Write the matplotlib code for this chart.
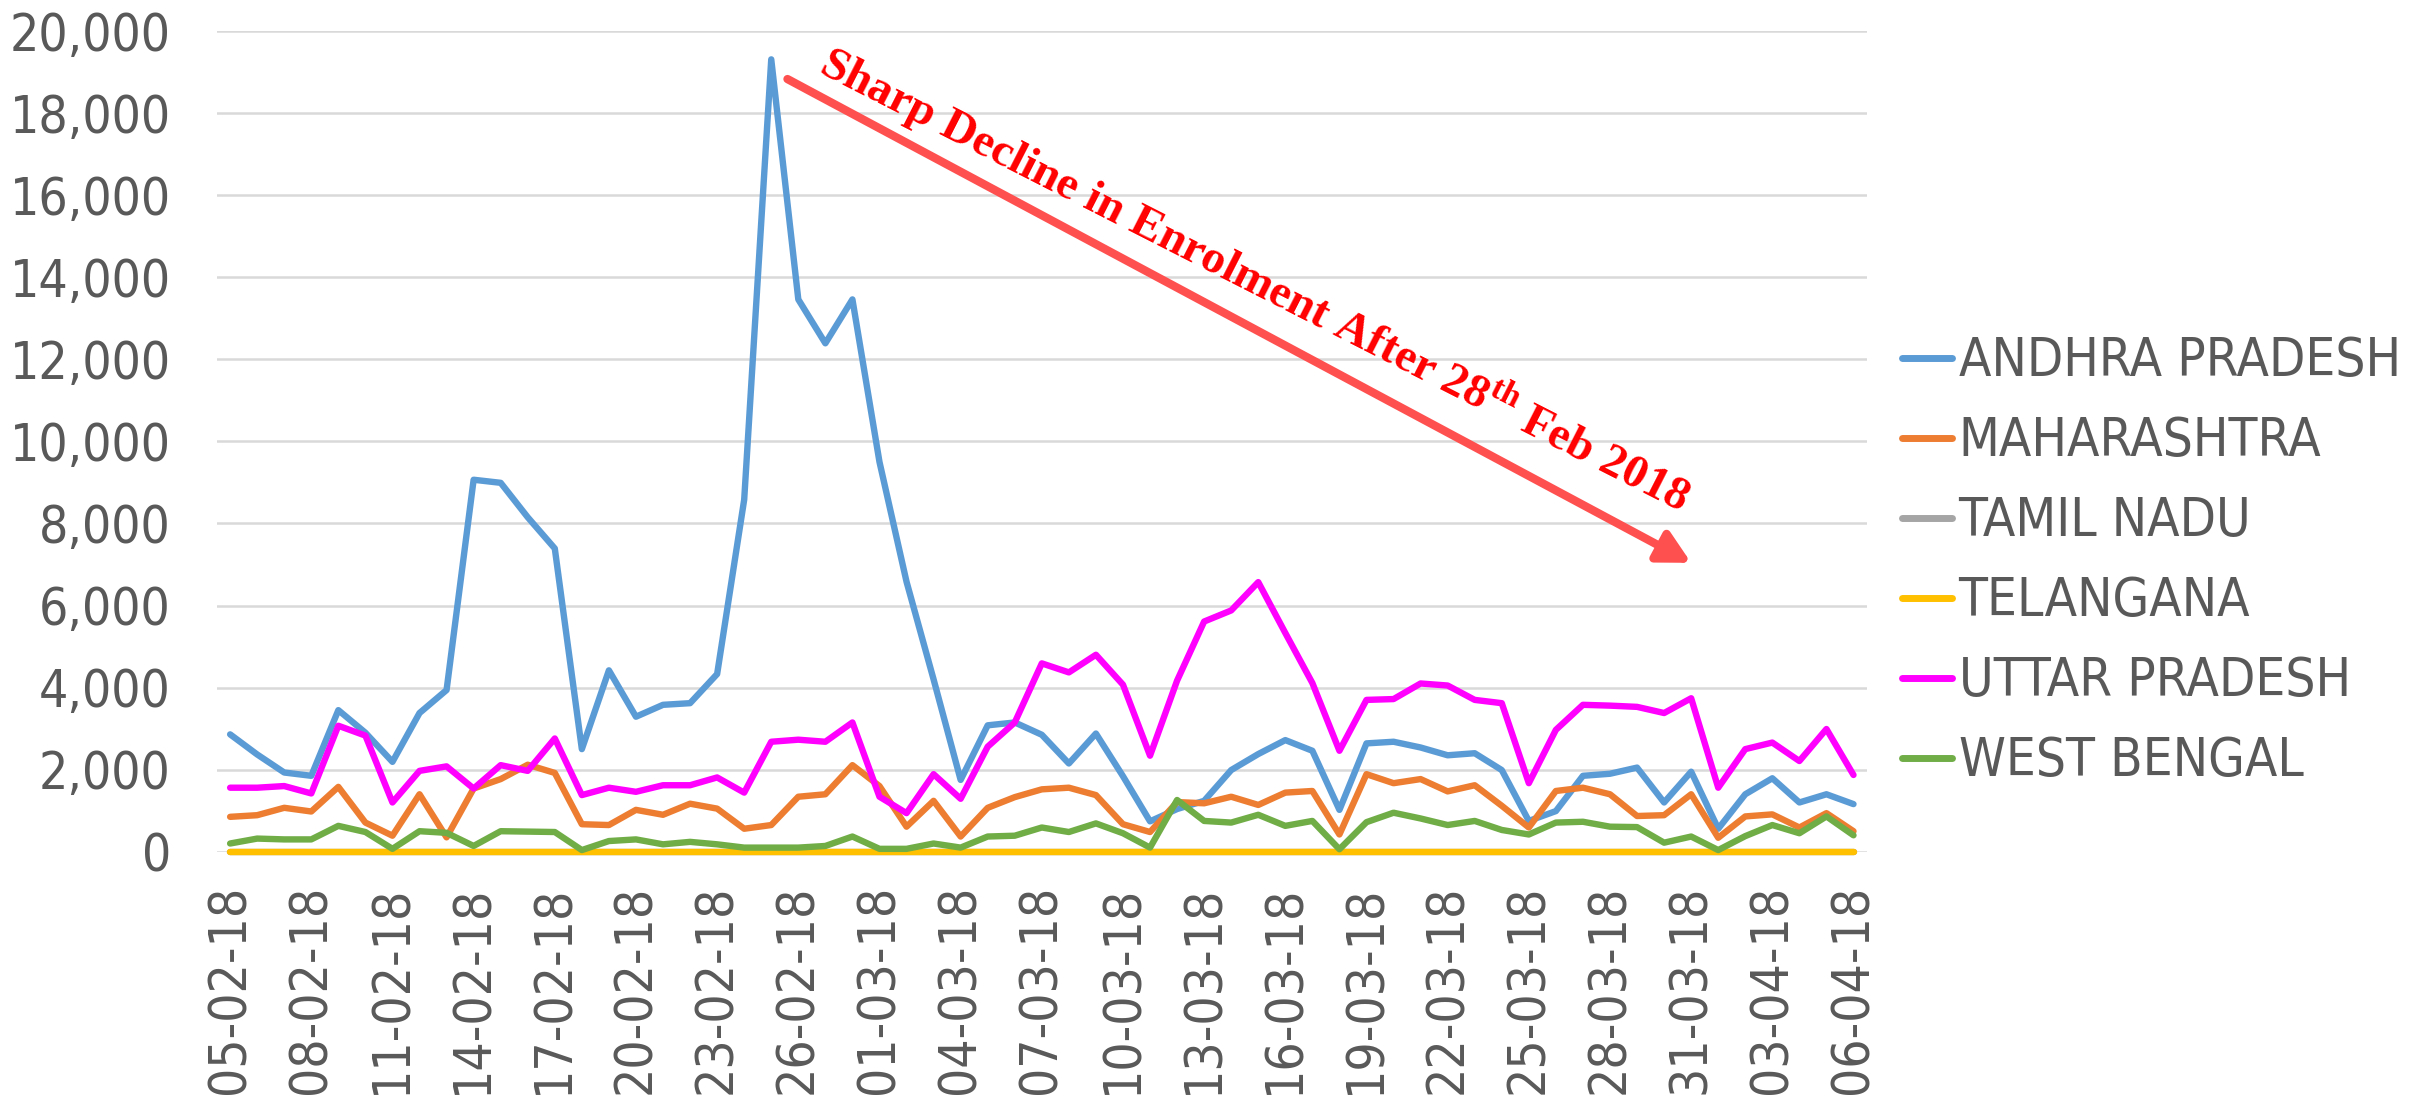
import matplotlib.pyplot as plt
import pandas as pd
from matplotlib.font_manager import FontProperties

# daily enrolment by state, 05-02-2018 to 06-04-2018
dates = pd.date_range("2018-02-05", "2018-04-06", freq="D")

andhra_pradesh = [2860, 2370, 1930, 1850, 3450, 2900, 2190, 3380, 3940, 9065,
                  8990, 8150, 7390, 2500, 4420, 3290, 3580, 3620, 4330, 8580,
                  19310, 13460, 12390, 13460, 9500, 6580, 4200, 1750, 3080, 3150,
                  2850, 2150, 2880, 1840, 740, 1040, 1240, 1990, 2380, 2720,
                  2460, 1020, 2640, 2680, 2540, 2350, 2400, 1990, 750, 990,
                  1850, 1900, 2050, 1200, 1950, 560, 1400, 1790, 1200, 1400,
                  1160]
maharashtra = [850, 890, 1070, 980, 1580, 710, 390, 1400, 350, 1540,
               1770, 2120, 1920, 670, 650, 1020, 900, 1170, 1050, 560,
               650, 1340, 1400, 2110, 1600, 610, 1240, 370, 1070, 1330,
               1520, 1560, 1380, 670, 480, 1210, 1180, 1340, 1140, 1440,
               1480, 420, 1890, 1670, 1770, 1470, 1620, 1120, 590, 1480,
               1560, 1400, 870, 890, 1400, 340, 860, 910, 590, 940,
               500]
tamil_nadu = [0, 0, 0, 0, 0, 0, 0, 0, 0, 0, 0, 0, 0, 0, 0, 0, 0, 0, 0, 0,
              0, 0, 0, 0, 0, 0, 0, 0, 0, 0, 0, 0, 0, 0, 0, 0, 0, 0, 0, 0,
              0, 0, 0, 0, 0, 0, 0, 0, 0, 0, 0, 0, 0, 0, 0, 0, 0, 0, 0, 0, 0]
telangana = [0, 0, 0, 0, 0, 0, 0, 0, 0, 0, 0, 0, 0, 0, 0, 0, 0, 0, 0, 0,
             0, 0, 0, 0, 0, 0, 0, 0, 0, 0, 0, 0, 0, 0, 0, 0, 0, 0, 0, 0,
             0, 0, 0, 0, 0, 0, 0, 0, 0, 0, 0, 0, 0, 0, 0, 0, 0, 0, 0, 0, 0]
uttar_pradesh = [1560, 1560, 1600, 1420, 3070, 2830, 1200, 1970, 2080, 1540,
                 2110, 1970, 2760, 1380, 1560, 1460, 1620, 1620, 1810, 1440,
                 2680, 2730, 2680, 3150, 1340, 940, 1890, 1290, 2560, 3150,
                 4590, 4370, 4800, 4070, 2340, 4170, 5610, 5880, 6570, 5330,
                 4110, 2460, 3700, 3720, 4100, 4050, 3700, 3620, 1670, 2970,
                 3580, 3560, 3530, 3380, 3740, 1560, 2500, 2660, 2210, 2990,
                 1870]
west_bengal = [200, 320, 300, 300, 630, 480, 70, 500, 460, 140,
               500, 490, 480, 40, 260, 300, 180, 240, 180, 100,
               100, 100, 140, 370, 70, 70, 200, 100, 370, 390,
               590, 480, 690, 450, 100, 1260, 750, 710, 900, 630,
               750, 60, 720, 950, 810, 650, 750, 530, 420, 710,
               730, 610, 600, 220, 370, 40, 380, 650, 450, 860,
               400]

states = ["ANDHRA PRADESH", "MAHARASHTRA", "TAMIL NADU", "TELANGANA",
          "UTTAR PRADESH", "WEST BENGAL"]
series = [andhra_pradesh, maharashtra, tamil_nadu, telangana, uttar_pradesh, west_bengal]
colors = ["#5B9BD5", "#ED7D31", "#A5A5A5", "#FFC000", "#FF00FF", "#70AD47"]

plt.rcParams['font.family'] = ['DejaVu Sans']
plt.rcParams['mathtext.fontset'] = 'custom'
plt.rcParams['mathtext.rm'] = 'Liberation Serif:bold'
plt.rcParams['mathtext.bf'] = 'Liberation Serif:bold'

fig = plt.figure(figsize=(24.2, 11.09), dpi=100)
ax = fig.add_axes([0.0895, 0.232, 0.682, 0.740])

x = list(range(len(dates)))
for name, vals, c in zip(states, series, colors):
    ax.plot(x, vals, color=c, lw=4.6, label=name, clip_on=False,
            solid_joinstyle='round', solid_capstyle='round')

ax.set_xlim(-0.5, len(dates) - 0.5)
ax.set_ylim(0, 20000)
ax.set_yticks(range(0, 20001, 2000))
ax.set_yticklabels(["{:,}".format(v) for v in range(0, 20001, 2000)])
ax.set_xticks(x[::3])
ax.set_xticklabels([d.strftime("%d-%m-%y") for d in dates[::3]], rotation=90)

# tahoma-like narrow labels
tick_font = FontProperties(family="DejaVu Sans", stretch="condensed", size=37)
for lab in ax.get_xticklabels() + ax.get_yticklabels():
    lab.set_fontproperties(tick_font)

ax.yaxis.grid(True, color="#D9D9D9", lw=1.8)
ax.set_axisbelow(True)
for s in ax.spines.values():
    s.set_visible(False)
ax.tick_params(axis="y", length=0, labelcolor="#595959", pad=33)
ax.tick_params(axis="x", length=0, labelcolor="#595959", pad=24)

# arrow + label for the drop after 28 Feb
ax.annotate("", xy=(54.0, 7040), xytext=(20.6, 18830),
            arrowprops=dict(arrowstyle="-|>,head_length=1.9,head_width=1.0",
                            color="#FF5050", lw=6, shrinkA=0, shrinkB=0))
ax.text(37.9, 13930, "Sharp Decline in Enrolment After 28$^{\\mathrm{th}}$ Feb 2018",
        rotation=-27, rotation_mode="anchor", ha="center", va="center",
        color="red", fontsize=34, fontweight="bold", family="Liberation Serif")

leg_font = FontProperties(family="DejaVu Sans", stretch="condensed", size=38)
leg = fig.legend(loc="center left", bbox_to_anchor=(0.786, 0.494), frameon=False,
                 prop=leg_font, labelcolor="#595959", handlelength=0.95,
                 handletextpad=0.12, labelspacing=0.53, borderaxespad=0, borderpad=0)
for h in leg.get_lines():
    h.set_linewidth(5)

plt.savefig("out.png", dpi=100)
